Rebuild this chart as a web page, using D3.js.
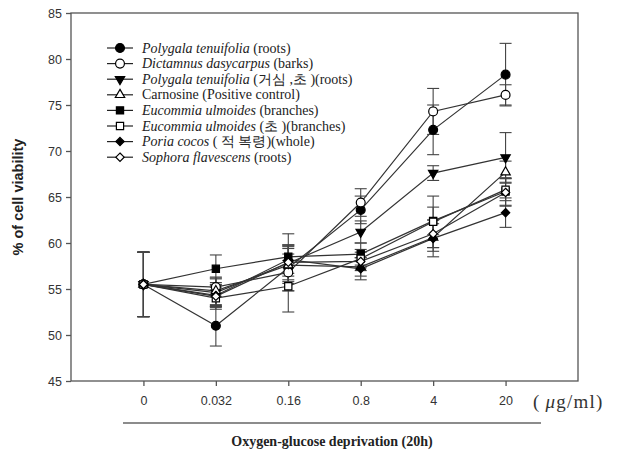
<!DOCTYPE html>
<html><head><meta charset="utf-8">
<script src="https://cdn.jsdelivr.net/npm/d3@7"></script>
<style>body{margin:0;background:#fff}</style>
</head><body><svg id="c" width="629" height="455"></svg>
<script>
const doses = ["0","0.032","0.16","0.8","4","20"];
const yTicks = [45,50,55,60,65,70,75,80,85];
const names = [
  ["Polygala tenuifolia"," (roots)"],
  ["Dictamnus dasycarpus"," (barks)"],
  ["Polygala tenuifolia"," (거심 ,초 )(roots)"],
  ["","Carnosine (Positive control)"],
  ["Eucommia ulmoides"," (branches)"],
  ["Eucommia ulmoides"," (초 )(branches)"],
  ["Poria cocos"," ( 적 복령)(whole)"],
  ["Sophora flavescens"," (roots)"]
];
const symbols = ["circle","circle","triDown","triUp","square","square","diamond","diamond"];
const filled = [true,false,true,false,true,false,true,false];
const s1 = [55.5,51.0,57.3,63.6,72.3,78.3], e1 = [3.5,2.2,2.5,1.5,2.7,3.4];
const s2 = [55.5,55.2,56.8,64.4,74.3,76.1], e2 = [3.5,1.0,2.0,1.5,2.5,1.1];
const s3 = [55.5,54.6,57.8,61.2,67.6,69.3], e3 = [3.5,1.5,2.0,1.2,0.8,2.7];
const s4 = [55.5,54.8,57.6,57.4,60.6,67.7], e4 = [3.5,1.5,2.0,1.0,1.5,1.2];
const s5 = [55.5,57.2,58.5,58.8,62.4,65.6], e5 = [3.5,1.5,2.5,1.2,1.5,1.5];
const s6 = [55.5,54.0,55.3,58.3,62.3,65.8], e6 = [3.5,1.2,2.8,1.0,2.8,1.2];
const s7 = [55.5,54.3,58.2,57.2,60.5,63.3], e7 = [3.5,1.2,1.5,1.2,2.0,1.6];
const s8 = [55.5,54.2,57.9,58.0,61.0,65.5], e8 = [3.5,1.2,1.5,1.0,1.5,1.5];
const values = [s1,s2,s3,s4,s5,s6,s7,s8];
const errors = [e1,e2,e3,e4,e5,e6,e7,e8];

const svg = d3.select("#c");
const L=71, R=578, T=13, B=381;
const x = d3.scaleLinear().domain([-1, doses.length]).range([L, R]);
const y = d3.scaleLinear().domain([45,85]).range([B, T]);
const axisCol = "#555";

svg.append("rect").attr("x",L).attr("y",T).attr("width",R-L).attr("height",B-T)
  .attr("fill","none").attr("stroke",axisCol).attr("stroke-width",1.3);

const ya = svg.append("g").attr("transform",`translate(${L},0)`)
  .call(d3.axisLeft(y).tickValues(yTicks).tickSize(5).tickPadding(4));
ya.select(".domain").remove();
ya.selectAll("line").attr("stroke",axisCol).attr("stroke-width",1.3);
ya.selectAll("text").attr("font-family","Arial, 'Liberation Sans', sans-serif").attr("font-size",12.5).attr("fill","#333");

const xa = svg.append("g").attr("transform",`translate(0,${B})`)
  .call(d3.axisBottom(x).tickValues(d3.range(doses.length)).tickFormat(i=>doses[i]).tickSize(5).tickPadding(10));
xa.select(".domain").remove();
xa.selectAll("line").attr("stroke",axisCol).attr("stroke-width",1.3);
xa.selectAll("text").attr("font-family","Arial, 'Liberation Sans', sans-serif").attr("font-size",12.5).attr("fill","#333");

const u = svg.append("text").attr("x",533).attr("y",408).attr("font-family","'Liberation Serif','Times New Roman',serif")
  .attr("font-size",19).attr("letter-spacing",1.2).attr("fill","#333");
u.append("tspan").text("(");
u.append("tspan").attr("dx",5).attr("font-style","italic").text("μ");
u.append("tspan").text("g/ml)");

svg.append("line").attr("x1",123).attr("x2",541).attr("y1",423).attr("y2",423).attr("stroke","#666").attr("stroke-width",1.3);
svg.append("text").attr("x",332).attr("y",446).attr("text-anchor","middle")
  .attr("font-family","'Liberation Serif','Times New Roman',serif").attr("font-weight","bold").attr("font-size",14).attr("fill","#222")
  .text("Oxygen-glucose deprivation (20h)");

svg.append("text").attr("transform","translate(23,197) rotate(-90)").attr("text-anchor","middle")
  .attr("font-family","Arial, 'Liberation Sans', sans-serif").attr("font-weight","bold").attr("font-size",14.5).attr("fill","#222")
  .text("% of cell viability");

function symPath(t){
  const m = {circle:d3.symbolCircle, square:d3.symbolSquare, diamond:d3.symbolDiamond2, triUp:d3.symbolTriangle, triDown:d3.symbolTriangle};
  const size = {circle:62, square:52, diamond:44, triUp:38, triDown:38}[t];
  return d3.symbol().type(m[t]).size(size)();
}
function drawMarker(g, t, f, cx, cy){
  g.append("path").attr("d",symPath(t))
    .attr("transform",`translate(${cx},${cy})` + (t==="triDown"?" rotate(180)":""))
    .attr("fill",f?"#000":"#fff").attr("stroke","#000").attr("stroke-width",1.2);
}

const line = d3.line().x((d,i)=>x(i)).y(d=>y(d));
const plot = svg.append("g");
values.forEach((vals)=>{
  plot.append("path").attr("d",line(vals)).attr("fill","none").attr("stroke","#333").attr("stroke-width",1.2);
});
values.forEach((vals,k)=>{
  vals.forEach((v,i)=>{
    const e = errors[k][i], cx = x(i);
    plot.append("line").attr("x1",cx).attr("x2",cx).attr("y1",y(v-e)).attr("y2",y(v+e)).attr("stroke","#444").attr("stroke-width",1.1);
    [v-e, v+e].forEach(w=>plot.append("line").attr("x1",cx-6).attr("x2",cx+6).attr("y1",y(w)).attr("y2",y(w)).attr("stroke","#444").attr("stroke-width",1.1));
  });
});
values.forEach((vals,k)=>{
  vals.forEach((v,i)=>drawMarker(plot, symbols[k], filled[k], x(i), y(v)));
});

const lg = svg.append("g");
names.forEach((n,k)=>{
  const ly = 48 + k*15.6;
  lg.append("line").attr("x1",107).attr("x2",133).attr("y1",ly).attr("y2",ly).attr("stroke","#222").attr("stroke-width",1.2);
  drawMarker(lg, symbols[k], filled[k], 120, ly);
  const t = lg.append("text").attr("x",142).attr("y",ly+4.5)
    .attr("font-family","'Liberation Serif','Times New Roman',serif").attr("font-size",14).attr("fill","#222");
  if(n[0]) t.append("tspan").attr("font-style","italic").text(n[0]);
  t.append("tspan").text(n[1]);
});
</script></body></html>
